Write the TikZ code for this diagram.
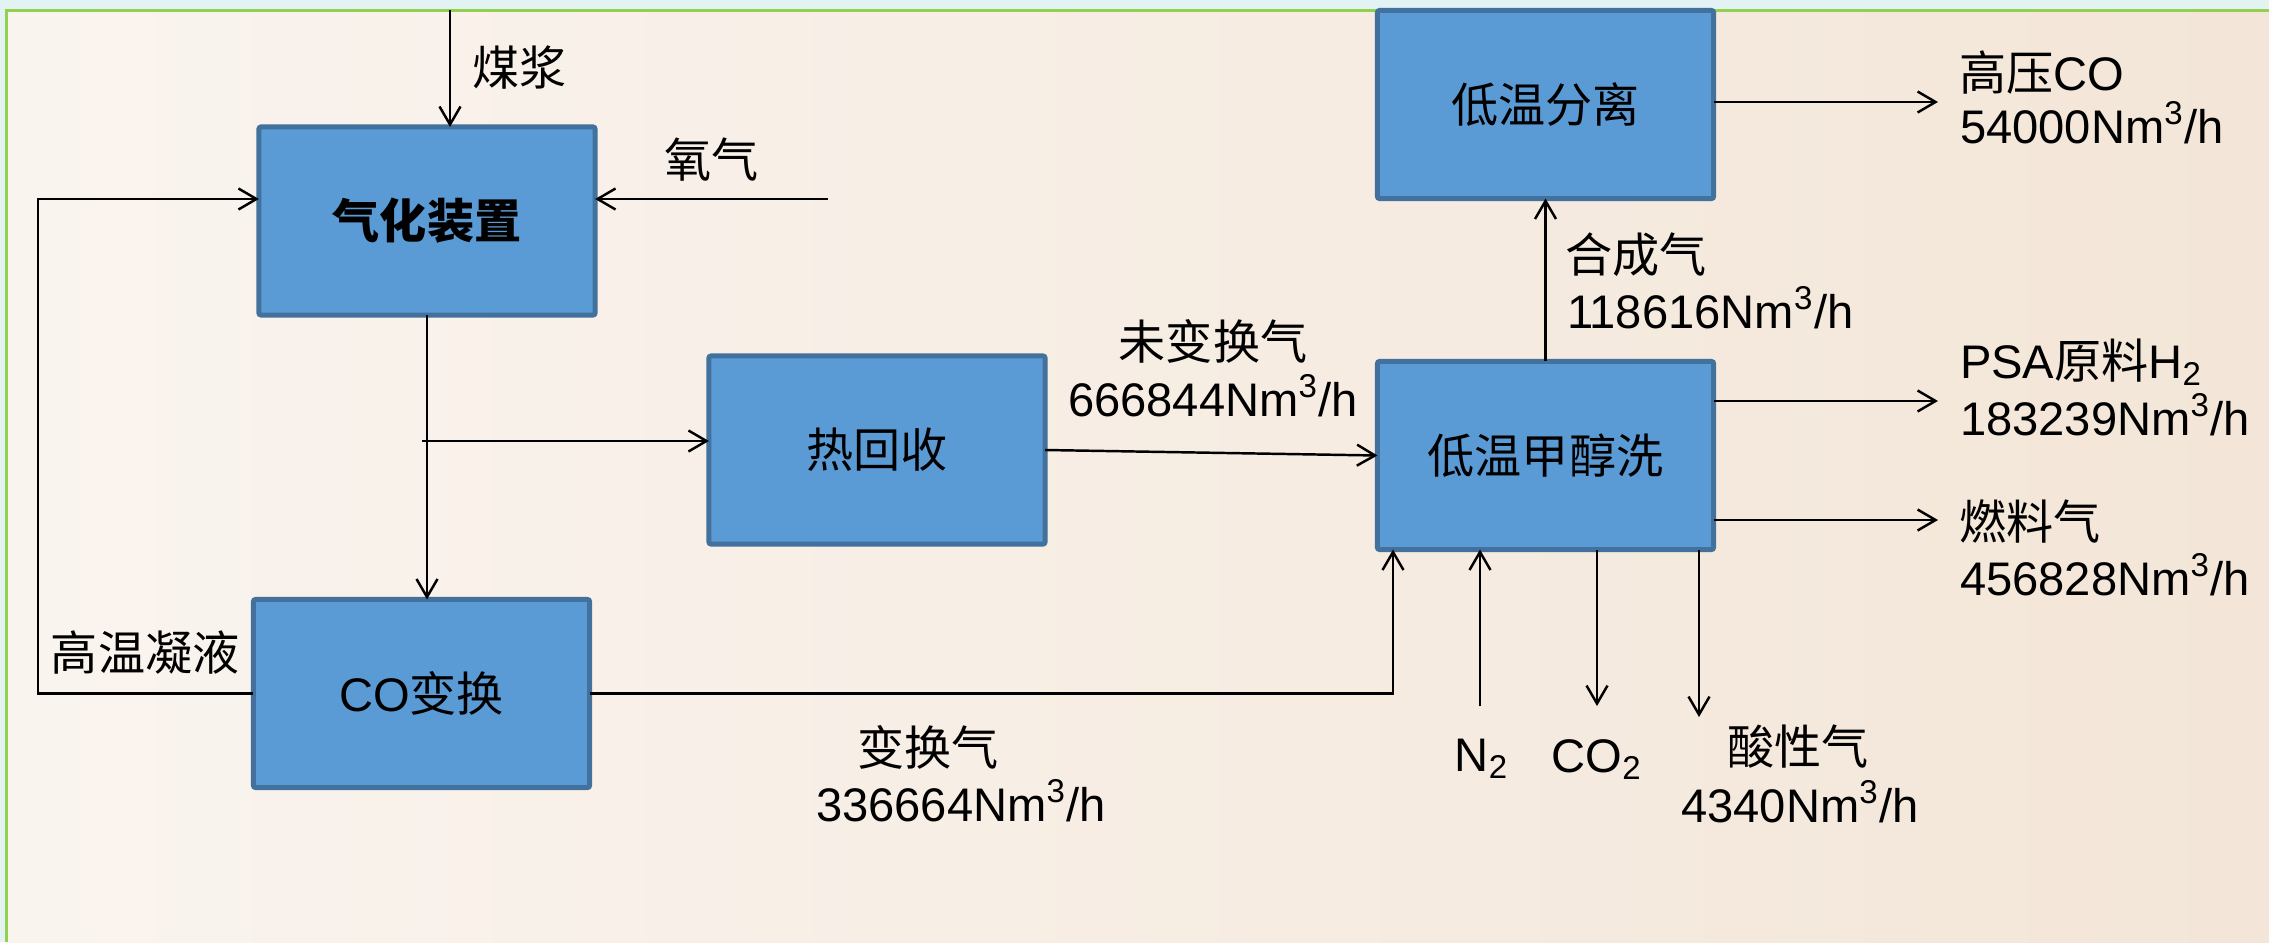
\documentclass[tikz,border=0pt]{standalone}
\usepackage{fontspec}
\setmainfont{Liberation Sans}
\newfontfamily\cjk{Noto Sans CJK SC}
\usetikzlibrary{arrows.meta}
\definecolor{cyanbg}{HTML}{E3F2F3}
\definecolor{bgL}{HTML}{FAF4EF}
\definecolor{bgR}{HTML}{F3E6D8}
\definecolor{frameg}{HTML}{92D050}
\definecolor{boxfill}{HTML}{5B9BD5}
\definecolor{boxline}{HTML}{41719C}
\newcommand{\nmh}{Nm\textsuperscript{3}/h}
\tikzset{
  every node/.style={font=\fontsize{13.4pt}{16pt}\selectfont, inner sep=0pt, outer sep=0pt},
  procbox/.style={draw=boxline, fill=boxfill, line width=1.4pt, rounded corners=0.6pt, minimum width=3.36cm, minimum height=1.88cm},
  arr/.style={draw=black, line width=0.7pt, -{Straight Barb[length=0.18cm,width=0.21cm,line width=0.7pt]}},
  lbl/.style={anchor=base west},
  clbl/.style={anchor=base}
}
\begin{document}
\begin{tikzpicture}[x=0.01cm,y=-0.01cm]
\useasboundingbox (0,0) rectangle (2269,942);
% background
\fill[cyanbg] (0,0) rectangle (2269,942);
\shade[left color=bgL, right color=bgR] (6,10) rectangle (2269,942);
\draw[frameg, line width=0.75pt] (6.5,942) -- (6.5,10.5) -- (2269,10.5);

% boxes
\node[procbox] (B1) at (427,221) {\cjk\bfseries 气化装置};
\node[procbox] (B2) at (877,450) {\cjk 热回收};
\node[procbox] (B3) at (421.5,693.5) {CO{\cjk 变换}};
\node[procbox] (B4) at (1545.5,104.5) {\cjk 低温分离};
\node[procbox] (B5) at (1545.5,455.5) {\cjk 低温甲醇洗};

% free ends
\coordinate (mj) at (450,10);
\coordinate (o2) at (828,199);
\coordinate (rc) at (38,199);
\coordinate (br) at (422,441);
\coordinate (jn) at (1393,694);
\coordinate (n2) at (1480,706);
\coordinate (co2) at (1597,706);
\coordinate (ag) at (1699,717);
\coordinate (hp) at (1938,102);
\coordinate (psa) at (1938,401);
\coordinate (fg) at (1938,520);

% connectors
\draw[arr] (mj) -- (mj |- B1.north);
\draw[arr] (o2) -- (o2 -| B1.east);
\draw[arr] (B3.west) -| (rc) -- (rc -| B1.west);
\draw[arr] (B1.south) -- (B1.south |- B3.north);
\draw[arr] (br) -- (br -| B2.west);
\draw[arr] (B2.east) -- (B5.west);
\draw[arr] (B3.east) -- (B3.east -| jn) -- (jn |- B5.south);
\draw[arr] (n2) -- (n2 |- B5.south);
\draw[arr] (co2 |- B5.south) -- (co2);
\draw[arr] (ag |- B5.south) -- (ag);
\draw[arr] (B5.north) -- (B4.south);
\draw[arr] (B4.east |- hp) -- (hp);
\draw[arr] (B5.east |- psa) -- (psa);
\draw[arr] (B5.east |- fg) -- (fg);

% labels
\node[lbl] (tmj) at (472,85) {\cjk 煤浆};
\node[lbl] (to2) at (664,177) {\cjk 氧气};
\node[lbl] (trc) at (51,670) {\cjk 高温凝液};
\node[clbl] (tw1) at (1213,359) {\cjk 未变换气};
\node[clbl] (tw2) at (1213,416) {666844\nmh};
\node[clbl] (tb1) at (928,765) {\cjk 变换气};
\node[clbl] (tb2) at (961,821) {336664\nmh};
\node[lbl] (th1) at (1565,272) {\cjk 合成气};
\node[lbl] (th2) at (1567,328) {118616\nmh};
\node[lbl] (tc1) at (1959,90) {{\cjk 高压}CO};
\node[lbl] (tc2) at (1960,143) {54000\nmh};
\node[lbl] (tp1) at (1960,378) {PSA{\cjk 原料}H\textsubscript{2}};
\node[lbl] (tp2) at (1960,435) {183239\nmh};
\node[lbl] (tf1) at (1959,539) {\cjk 燃料气};
\node[lbl] (tf2) at (1960,595) {456828\nmh};
\node[clbl] (tn2) at (1482,771) {N\textsubscript{2}};
\node[clbl] (tco2) at (1597,772) {CO\textsubscript{2}};
\node[clbl] (ta1) at (1798,764) {\cjk 酸性气};
\node[clbl] (ta2) at (1800,822) {4340\nmh};
\end{tikzpicture}
\end{document}
